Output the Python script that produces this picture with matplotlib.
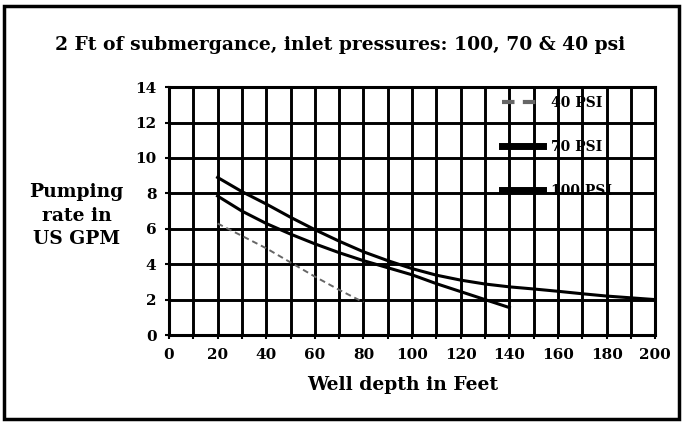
import numpy as np
import matplotlib
matplotlib.use("Agg")
import matplotlib.pyplot as plt
from matplotlib.patches import Rectangle

# well depth (ft) and pumping rate (US GPM)
depth_40 = [20, 30, 40, 50, 60, 70, 80]
rate_40 = [6.3, 5.6, 4.9, 4.1, 3.3, 2.55, 1.85]

depth_70 = [20, 30, 40, 50, 60, 70, 80, 90, 100, 110, 120, 130, 140]
rate_70 = [7.85, 7.0, 6.3, 5.7, 5.15, 4.65, 4.2, 3.8, 3.4, 2.9, 2.45, 2.0, 1.55]

depth_100 = [20, 30, 40, 50, 60, 70, 80, 90, 100, 110, 120, 130, 140,
             150, 160, 170, 180, 190, 200]
rate_100 = [8.9, 8.1, 7.4, 6.65, 5.95, 5.3, 4.7, 4.2, 3.75, 3.38, 3.1, 2.88,
            2.72, 2.6, 2.47, 2.33, 2.2, 2.1, 2.0]

labels = ["40 PSI", "70 PSI", "100 PSI"]
xticks = list(range(0, 201, 20))
yticks = list(range(0, 15, 2))

FONT = "DejaVu Serif"

fig = plt.figure(figsize=(6.84, 4.23), dpi=100)
ax = fig.add_axes([0.247, 0.208, 0.711, 0.586])

ax.plot(depth_40, rate_40, color="#666666", lw=1.4, ls=(0, (3, 2)), label=labels[0])
ax.plot(depth_70, rate_70, color="black", lw=2.2, label=labels[1])
ax.plot(depth_100, rate_100, color="black", lw=2.2, label=labels[2])

ax.set_xlim(0, 200)
ax.set_ylim(0, 14)
ax.set_xticks(xticks)
ax.set_xticks(range(0, 201, 10), minor=True)
ax.set_yticks(yticks)
ax.grid(True, which="both", color="black", lw=2.1)
ax.set_axisbelow(True)
for s in ax.spines.values():
    s.set_linewidth(2.2)
ax.tick_params(which="both", length=3, width=1.5, color="black")
ax.tick_params(axis="x", pad=6)
ax.tick_params(axis="y", pad=6)
for t in ax.get_xticklabels() + ax.get_yticklabels():
    t.set_fontfamily(FONT)
    t.set_fontweight("bold")
    t.set_fontsize(11)

leg = ax.legend(loc="upper left", bbox_to_anchor=(0.66, 1.015), frameon=False,
                handlelength=2.9, handletextpad=0.6, labelspacing=2.15,
                prop={"family": FONT, "weight": "bold", "size": 10})
for h in leg.legend_handles[1:]:
    h.set_linewidth(5)
leg.legend_handles[0].set_linewidth(3)

fig.text(0.497, 0.893, "2 Ft of submergance, inlet pressures: 100, 70 & 40 psi",
         ha="center", va="center", fontfamily=FONT, fontweight="bold", fontsize=13.5)
fig.text(0.112, 0.49, "Pumping\nrate in\nUS GPM", ha="center", va="center",
         fontfamily=FONT, fontweight="bold", fontsize=13.5, linespacing=1.4)
fig.text(0.588, 0.09, "Well depth in Feet", ha="center", va="center",
         fontfamily=FONT, fontweight="bold", fontsize=13.5)

fig.patches.append(Rectangle((0.006, 0.01), 0.986, 0.975, transform=fig.transFigure,
                             fill=False, edgecolor="black", lw=2.5))

fig.savefig("out.png", dpi=100)
